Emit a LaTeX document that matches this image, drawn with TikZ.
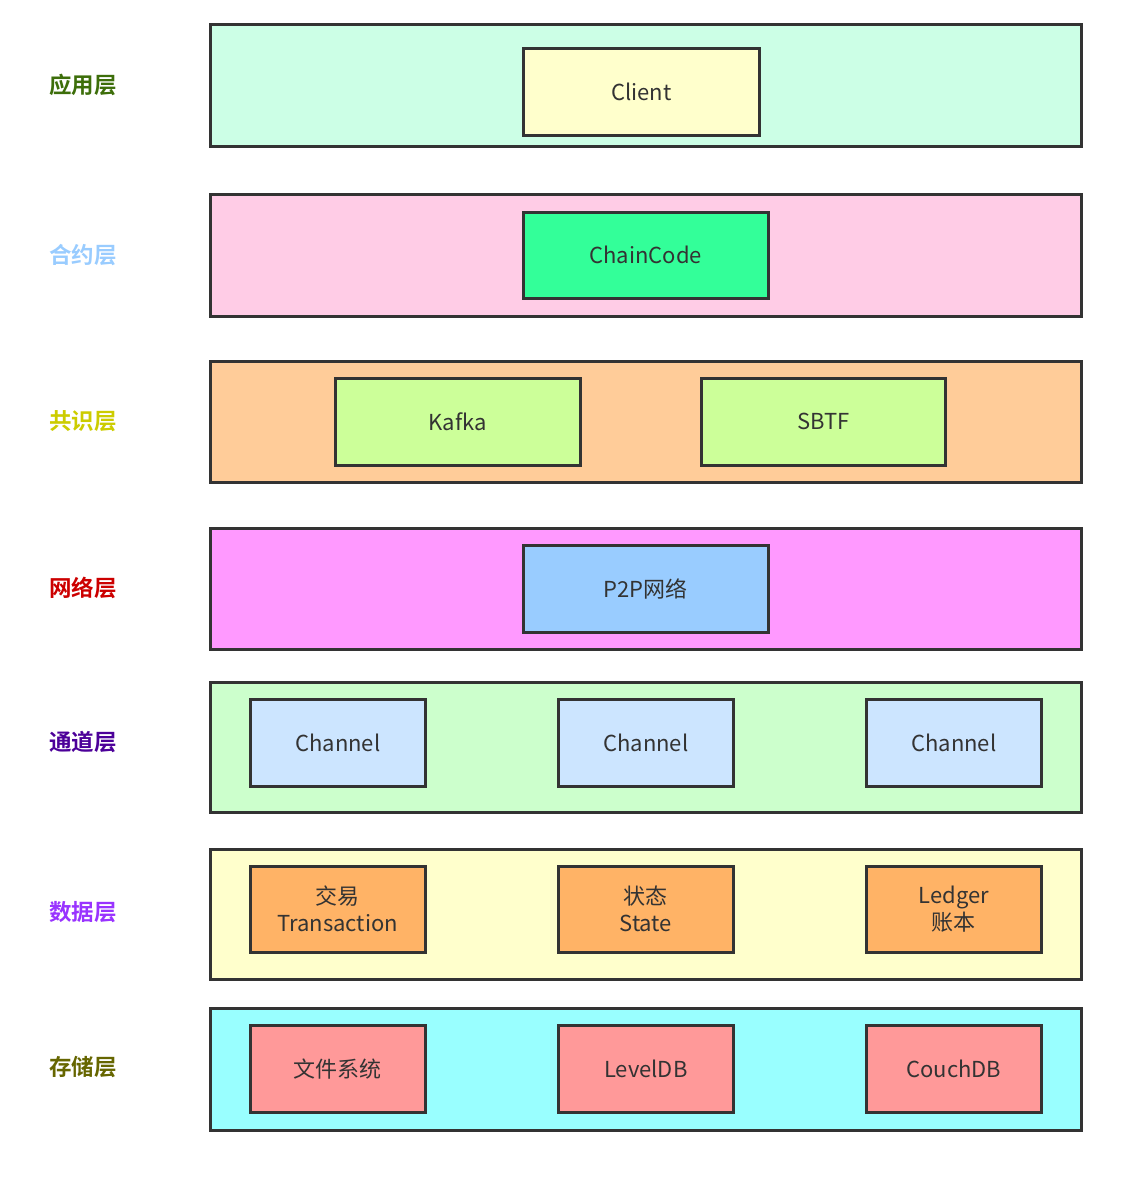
\documentclass[tikz,border=0pt]{standalone}
\usepackage{fontspec}
\setmainfont{Noto Sans CJK SC}
\newfontfamily\cjkb{Noto Sans CJK SC Bold}
\definecolor{lineC}{HTML}{333333}
\definecolor{txtC}{HTML}{333333}
\tikzset{
  layer/.style={draw=lineC, line width=2.5pt, rectangle, anchor=north west, inner sep=0pt},
  item/.style={draw=lineC, line width=2.5pt, rectangle, anchor=north west, inner sep=0pt, text=txtC, font=\fontsize{22}{27}\selectfont, align=center},
  lab/.style={font=\cjkb\fontsize{22.5}{24}\selectfont}
}
\begin{document}
\begin{tikzpicture}[x=1pt,y=-1pt]
\useasboundingbox (0,0) rectangle (1134,1181);
% layers
\node[layer, fill={rgb,255:red,204;green,255;blue,230}, minimum width=871pt, minimum height=122pt] (L1) at (209,23) {};
\node[layer, fill={rgb,255:red,255;green,204;blue,230}, minimum width=871pt, minimum height=122pt] (L2) at (209,193) {};
\node[layer, fill={rgb,255:red,255;green,204;blue,153}, minimum width=871pt, minimum height=121pt] (L3) at (209,360) {};
\node[layer, fill={rgb,255:red,255;green,153;blue,255}, minimum width=871pt, minimum height=121pt] (L4) at (209,527) {};
\node[layer, fill={rgb,255:red,204;green,255;blue,204}, minimum width=871pt, minimum height=130pt] (L5) at (209,681) {};
\node[layer, fill={rgb,255:red,255;green,255;blue,204}, minimum width=871pt, minimum height=130pt] (L6) at (209,848) {};
\node[layer, fill={rgb,255:red,153;green,255;blue,255}, minimum width=871pt, minimum height=122pt] (L7) at (209,1007) {};
% labels
\node[lab, text={rgb,255:red,61;green,110;blue,10}] (T1) at (83,85) {应用层};
\node[lab, text={rgb,255:red,153;green,204;blue,255}] (T2) at (83,255) {合约层};
\node[lab, text={rgb,255:red,204;green,204;blue,0}] (T3) at (83,421) {共识层};
\node[lab, text={rgb,255:red,204;green,0;blue,0}] (T4) at (83,588) {网络层};
\node[lab, text={rgb,255:red,76;green,0;blue,153}] (T5) at (83,742) {通道层};
\node[lab, text={rgb,255:red,153;green,51;blue,255}] (T6) at (83,912) {数据层};
\node[lab, text={rgb,255:red,102;green,102;blue,0}] (T7) at (83,1067) {存储层};
% items
\node[item, fill={rgb,255:red,255;green,255;blue,204}, minimum width=236pt, minimum height=87pt] (client) at (522,47) {Client};
\node[item, fill={rgb,255:red,51;green,255;blue,153}, minimum width=245pt, minimum height=86pt] (cc) at (522,211) {ChainCode};
\node[item, fill={rgb,255:red,204;green,255;blue,153}, minimum width=245pt, minimum height=87pt] (kafka) at (334,377) {Kafka};
\node[item, fill={rgb,255:red,204;green,255;blue,153}, minimum width=244pt, minimum height=87pt] (sbtf) at (700,377) {SBTF};
\node[item, fill={rgb,255:red,153;green,204;blue,255}, minimum width=245pt, minimum height=87pt] (p2p) at (522,544) {P2P网络};
\node[item, fill={rgb,255:red,204;green,229;blue,255}, minimum width=175pt, minimum height=87pt] (ch1) at (249,698) {Channel};
\node[item, fill={rgb,255:red,204;green,229;blue,255}, minimum width=175pt, minimum height=87pt] (ch2) at (557,698) {Channel};
\node[item, fill={rgb,255:red,204;green,229;blue,255}, minimum width=175pt, minimum height=87pt] (ch3) at (865,698) {Channel};
\node[item, fill={rgb,255:red,255;green,179;blue,102}, minimum width=175pt, minimum height=86pt] (tx) at (249,865) {交易\\Transaction};
\node[item, fill={rgb,255:red,255;green,179;blue,102}, minimum width=175pt, minimum height=86pt] (st) at (557,865) {状态\\State};
\node[item, fill={rgb,255:red,255;green,179;blue,102}, minimum width=175pt, minimum height=86pt] (ld) at (865,865) {Ledger\\账本};
\node[item, fill={rgb,255:red,255;green,153;blue,153}, minimum width=175pt, minimum height=87pt] (fs) at (249,1024) {文件系统};
\node[item, fill={rgb,255:red,255;green,153;blue,153}, minimum width=175pt, minimum height=87pt] (lv) at (557,1024) {LevelDB};
\node[item, fill={rgb,255:red,255;green,153;blue,153}, minimum width=175pt, minimum height=87pt] (cd) at (865,1024) {CouchDB};
\end{tikzpicture}
\end{document}
